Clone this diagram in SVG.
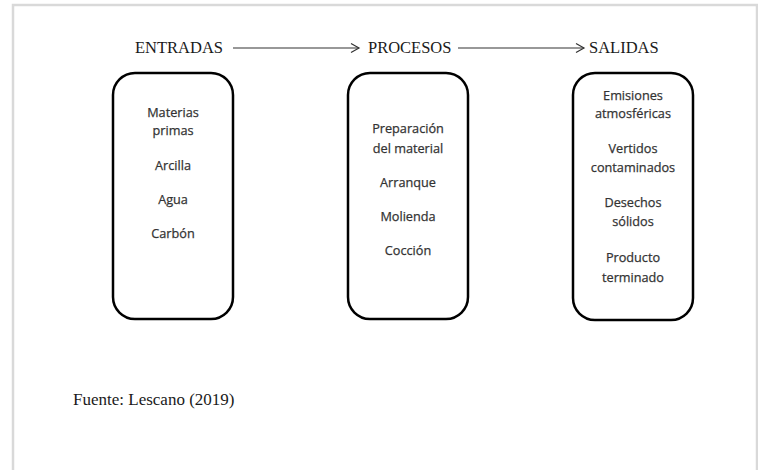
<svg xmlns="http://www.w3.org/2000/svg" width="758" height="470" viewBox="0 0 758 470">
<style>
.frame{fill:#ffffff;stroke:#d9d9d9;stroke-width:2.5}
.box{fill:#ffffff;stroke:#000000;stroke-width:2.5}
.hd{font-family:"Liberation Serif","Times New Roman",serif;font-size:16.5px;fill:#1a1a1a}
.it{font-family:"Open Sans","Liberation Sans",sans-serif;font-size:12.7px;fill:#333333;stroke:#333333;stroke-width:0.25;text-anchor:middle}
.ft{font-family:"Liberation Serif","Times New Roman",serif;font-size:17px;fill:#1a1a1a}
.arr{stroke:#333333;stroke-width:1.2;fill:none}
</style>
<defs>
<marker id="ah" markerWidth="12" markerHeight="12" refX="10" refY="6" orient="auto" markerUnits="userSpaceOnUse">
<path d="M2,1.5 L10,6 L2,10.5" fill="none" stroke="#333333" stroke-width="1.2"/>
</marker>
</defs>
<rect x="0" y="0" width="758" height="470" fill="#ffffff"/>
<rect class="frame" x="13" y="5" width="744" height="480"/>
<g id="connectors">
<line class="arr" x1="233" y1="48" x2="359" y2="48" marker-end="url(#ah)"/>
<line class="arr" x1="458" y1="48" x2="584" y2="48" marker-end="url(#ah)"/>
</g>
<g id="entradas">
<text class="hd" x="135" y="53">ENTRADAS</text>
<rect class="box" x="113" y="73" width="120" height="246" rx="22" ry="22"/>
<text class="it" x="173" y="117">Materias</text>
<text class="it" x="173" y="135">primas</text>
<text class="it" x="173" y="170">Arcilla</text>
<text class="it" x="173" y="204">Agua</text>
<text class="it" x="173" y="238">Carbón</text>
</g>
<g id="procesos">
<text class="hd" x="368" y="53">PROCESOS</text>
<rect class="box" x="348" y="73" width="120" height="246" rx="22" ry="22"/>
<text class="it" x="408" y="133">Preparación</text>
<text class="it" x="408" y="153">del material</text>
<text class="it" x="408" y="187">Arranque</text>
<text class="it" x="408" y="221">Molienda</text>
<text class="it" x="408" y="255">Cocción</text>
</g>
<g id="salidas">
<text class="hd" x="589" y="53">SALIDAS</text>
<rect class="box" x="573" y="73" width="120" height="247" rx="22" ry="22"/>
<text class="it" x="633" y="100">Emisiones</text>
<text class="it" x="633" y="118">atmosféricas</text>
<text class="it" x="633" y="153">Vertidos</text>
<text class="it" x="633" y="172">contaminados</text>
<text class="it" x="633" y="207">Desechos</text>
<text class="it" x="633" y="226">sólidos</text>
<text class="it" x="633" y="262">Producto</text>
<text class="it" x="633" y="282">terminado</text>
</g>
<g id="fuente">
<text class="ft" x="73" y="405">Fuente: Lescano (2019)</text>
</g>
</svg>
